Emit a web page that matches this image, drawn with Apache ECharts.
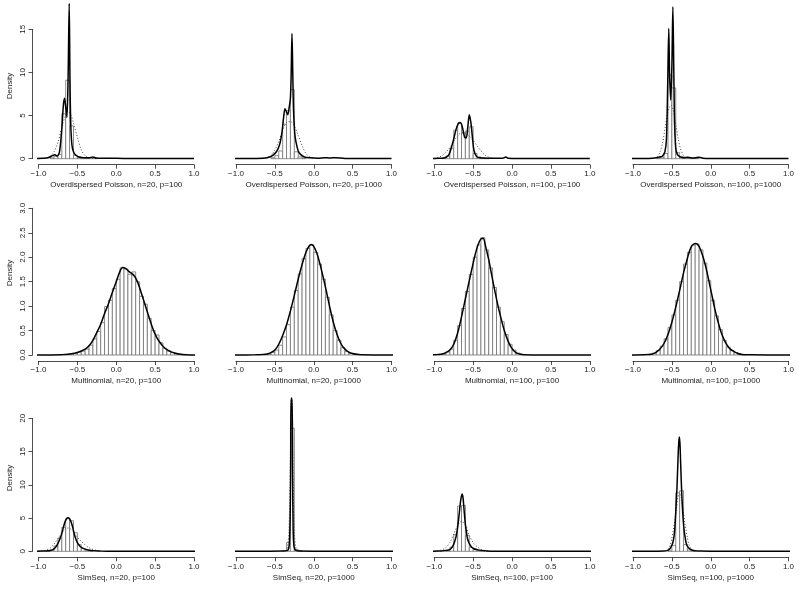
<!DOCTYPE html>
<html>
<head>
<meta charset="utf-8">
<script src="https://cdn.jsdelivr.net/npm/echarts@6/dist/echarts.min.js"></script>
<style>
  html, body { margin: 0; padding: 0; background: #fff; }
  #chart { width: 800px; height: 589px; }
</style>
</head>
<body>
<div id="chart"></div>
<script>
// panel captions, row by row
const panelTitles = [
  'Overdispersed Poisson, n=20, p=100', 'Overdispersed Poisson, n=20, p=1000',
  'Overdispersed Poisson, n=100, p=100', 'Overdispersed Poisson, n=100, p=1000',
  'Multinomial, n=20, p=100', 'Multinomial, n=20, p=1000',
  'Multinomial, n=100, p=100', 'Multinomial, n=100, p=1000',
  'SimSeq, n=20, p=100', 'SimSeq, n=20, p=1000',
  'SimSeq, n=100, p=100', 'SimSeq, n=100, p=1000'
]
const xTicks = [-1, -0.5, 0, 0.5, 1]
const rowYMax = [15, 3, 20]
const rowYStep = [5, 0.5, 5]
const binWidth = 0.05

// histograms: [bin start, density]
const hist1 = [[-0.85, 0.1], [-0.8, 0.3], [-0.75, 0.5], [-0.7, 5.2], [-0.65, 9.1], [-0.6, 3.8], [-0.55, 0.4], [-0.5, 0.15], [-0.45, 0.08], [-0.4, 0.05], [-0.35, 0.05], [-0.3, 0.08]]
const hist2 = [[-0.55, 0.1], [-0.5, 0.35], [-0.45, 0.9], [-0.4, 4.0], [-0.35, 5.6], [-0.3, 8.0], [-0.25, 0.8], [-0.2, 0.2], [-0.15, 0.05]]
const hist3 = [[-0.9, 0.05], [-0.85, 0.3], [-0.8, 1.2], [-0.75, 3.3], [-0.7, 4.1], [-0.65, 3.0], [-0.6, 3.2], [-0.55, 3.7], [-0.5, 0.6], [-0.45, 0.2], [-0.4, 0.1], [-0.35, 0.05]]
const hist4 = [[-0.7, 0.05], [-0.65, 0.2], [-0.6, 0.6], [-0.55, 9.7], [-0.5, 8.2], [-0.45, 0.7], [-0.4, 0.25], [-0.35, 0.1], [-0.3, 0.1], [-0.25, 0.05], [-0.2, 0.05]]
const hist5 = [[-0.65, 0.01], [-0.6, 0.02], [-0.55, 0.03], [-0.5, 0.06], [-0.45, 0.08], [-0.4, 0.12], [-0.35, 0.2], [-0.3, 0.33], [-0.25, 0.48], [-0.2, 0.66], [-0.15, 0.99], [-0.1, 1.12], [-0.05, 1.36], [0, 1.55], [0.05, 1.78], [0.1, 1.76], [0.15, 1.65], [0.2, 1.7], [0.25, 1.5], [0.3, 1.2], [0.35, 1.04], [0.4, 0.75], [0.45, 0.5], [0.5, 0.41], [0.55, 0.25], [0.6, 0.14], [0.65, 0.08], [0.7, 0.05], [0.75, 0.03], [0.8, 0.02], [0.85, 0.01]]
const hist6 = [[-0.65, 0.01], [-0.6, 0.02], [-0.55, 0.05], [-0.5, 0.1], [-0.45, 0.2], [-0.4, 0.37], [-0.35, 0.62], [-0.3, 0.98], [-0.25, 1.32], [-0.2, 1.66], [-0.15, 1.97], [-0.1, 2.18], [-0.05, 2.25], [0, 2.1], [0.05, 1.86], [0.1, 1.55], [0.15, 1.18], [0.2, 0.82], [0.25, 0.5], [0.3, 0.3], [0.35, 0.15], [0.4, 0.07], [0.45, 0.03], [0.5, 0.01]]
const hist7 = [[-0.95, 0.01], [-0.9, 0.02], [-0.85, 0.06], [-0.8, 0.12], [-0.75, 0.3], [-0.7, 0.6], [-0.65, 0.95], [-0.6, 1.3], [-0.55, 1.65], [-0.5, 2.0], [-0.45, 2.25], [-0.4, 2.4], [-0.35, 2.15], [-0.3, 1.78], [-0.25, 1.38], [-0.2, 0.98], [-0.15, 0.68], [-0.1, 0.42], [-0.05, 0.22], [0, 0.1], [0.05, 0.04], [0.1, 0.01]]
const hist8 = [[-0.8, 0.015], [-0.75, 0.04], [-0.7, 0.09], [-0.65, 0.18], [-0.6, 0.33], [-0.55, 0.56], [-0.5, 0.82], [-0.45, 1.12], [-0.4, 1.5], [-0.35, 1.86], [-0.3, 2.1], [-0.25, 2.25], [-0.2, 2.27], [-0.15, 2.15], [-0.1, 1.88], [-0.05, 1.52], [0, 1.12], [0.05, 0.8], [0.1, 0.52], [0.15, 0.3], [0.2, 0.16], [0.25, 0.09], [0.3, 0.05], [0.35, 0.02], [0.4, 0.01]]
const hist9 = [[-0.9, 0.05], [-0.85, 0.2], [-0.8, 0.8], [-0.75, 2.0], [-0.7, 3.6], [-0.65, 4.9], [-0.6, 4.6], [-0.55, 2.8], [-0.5, 1.0], [-0.45, 0.4], [-0.4, 0.15], [-0.35, 0.06]]
const hist10 = [[-0.4, 0.05], [-0.35, 1.3], [-0.3, 18.5], [-0.25, 0.3], [-0.2, 0.05]]
const hist11 = [[-0.85, 0.1], [-0.8, 0.6], [-0.75, 2.5], [-0.7, 6.8], [-0.65, 6.9], [-0.6, 2.4], [-0.55, 0.6], [-0.5, 0.25], [-0.45, 0.1], [-0.4, 0.05]]
const hist12 = [[-0.55, 0.05], [-0.5, 0.9], [-0.45, 8.8], [-0.4, 9.1], [-0.35, 1.0], [-0.3, 0.2], [-0.25, 0.05]]

// kernel density curves (solid)
const dens1 = [[-1.03, 0.03], [-0.95, 0.05], [-0.88, 0.1], [-0.82, 0.35], [-0.79, 0.45], [-0.76, 0.3], [-0.73, 0.8], [-0.7, 3.5], [-0.68, 6.2], [-0.665, 7.0], [-0.65, 6.0], [-0.635, 4.8], [-0.62, 9], [-0.605, 18.0], [-0.595, 9], [-0.585, 4], [-0.57, 1.6], [-0.55, 0.8], [-0.52, 0.4], [-0.48, 0.2], [-0.42, 0.12], [-0.35, 0.1], [-0.3, 0.2], [-0.26, 0.08], [-0.15, 0.05], [0, 0.04], [0.2, 0.02], [0.5, 0.01], [1.0, 0.01]]
const dens2 = [[-1.03, 0.02], [-0.8, 0.03], [-0.65, 0.05], [-0.6, 0.1], [-0.54, 0.3], [-0.48, 0.8], [-0.44, 1.6], [-0.41, 3.0], [-0.385, 5.0], [-0.37, 5.8], [-0.35, 5.4], [-0.335, 5.1], [-0.315, 6.0], [-0.3, 7.0], [-0.29, 10], [-0.28, 14.5], [-0.27, 10], [-0.26, 5.6], [-0.245, 3.0], [-0.23, 2.0], [-0.2, 0.9], [-0.17, 0.5], [-0.12, 0.2], [-0.05, 0.1], [0.05, 0.05], [0.15, 0.12], [0.2, 0.08], [0.28, 0.12], [0.4, 0.03], [0.7, 0.02], [1.0, 0.02]]
const dens3 = [[-1.03, 0.02], [-0.95, 0.05], [-0.88, 0.08], [-0.84, 0.2], [-0.81, 0.5], [-0.78, 1.3], [-0.75, 2.3], [-0.72, 3.4], [-0.69, 4.1], [-0.67, 4.2], [-0.65, 4.0], [-0.63, 3.3], [-0.61, 2.5], [-0.59, 2.4], [-0.57, 3.6], [-0.55, 5.1], [-0.53, 4.2], [-0.51, 2.5], [-0.49, 1.0], [-0.46, 0.3], [-0.42, 0.1], [-0.3, 0.05], [-0.12, 0.04], [-0.08, 0.2], [-0.05, 0.06], [0.1, 0.03], [0.5, 0.02], [1.0, 0.02]]
const dens4 = [[-1.03, 0.02], [-0.8, 0.03], [-0.7, 0.1], [-0.66, 0.2], [-0.63, 0.25], [-0.61, 0.45], [-0.59, 0.8], [-0.57, 2.2], [-0.555, 8], [-0.54, 15.1], [-0.53, 10], [-0.515, 6.8], [-0.5, 10.7], [-0.487, 17.6], [-0.475, 10], [-0.465, 4], [-0.45, 1.2], [-0.43, 0.5], [-0.4, 0.25], [-0.35, 0.12], [-0.3, 0.18], [-0.25, 0.08], [-0.2, 0.1], [-0.15, 0.18], [-0.1, 0.06], [0, 0.03], [0.5, 0.02], [1.0, 0.02]]
const dens5 = [[-1.03, 0], [-0.7, 0.005], [-0.6, 0.02], [-0.5, 0.05], [-0.4, 0.12], [-0.35, 0.19], [-0.3, 0.3], [-0.25, 0.46], [-0.2, 0.63], [-0.15, 0.85], [-0.1, 1.05], [-0.05, 1.28], [0, 1.5], [0.04, 1.68], [0.08, 1.79], [0.12, 1.77], [0.16, 1.71], [0.2, 1.67], [0.24, 1.6], [0.28, 1.47], [0.32, 1.28], [0.36, 1.08], [0.4, 0.88], [0.44, 0.68], [0.48, 0.5], [0.52, 0.36], [0.56, 0.26], [0.6, 0.18], [0.65, 0.11], [0.7, 0.07], [0.75, 0.04], [0.8, 0.02], [0.9, 0.005], [1.03, 0]]
const dens6 = [[-1.03, 0], [-0.75, 0.003], [-0.65, 0.01], [-0.6, 0.02], [-0.55, 0.05], [-0.5, 0.1], [-0.45, 0.22], [-0.4, 0.4], [-0.35, 0.62], [-0.3, 0.9], [-0.25, 1.22], [-0.2, 1.55], [-0.15, 1.85], [-0.1, 2.1], [-0.06, 2.23], [-0.03, 2.26], [0, 2.22], [0.04, 2.08], [0.08, 1.86], [0.12, 1.6], [0.16, 1.32], [0.2, 1.02], [0.25, 0.68], [0.3, 0.42], [0.35, 0.23], [0.4, 0.12], [0.45, 0.06], [0.5, 0.03], [0.6, 0.005], [1.03, 0]]
const dens7 = [[-1.03, 0.003], [-0.95, 0.01], [-0.9, 0.02], [-0.85, 0.05], [-0.8, 0.1], [-0.75, 0.22], [-0.7, 0.45], [-0.65, 0.78], [-0.6, 1.15], [-0.55, 1.52], [-0.5, 1.88], [-0.46, 2.14], [-0.42, 2.32], [-0.39, 2.38], [-0.37, 2.38], [-0.34, 2.22], [-0.3, 1.95], [-0.26, 1.62], [-0.22, 1.3], [-0.18, 1.0], [-0.14, 0.74], [-0.1, 0.5], [-0.06, 0.32], [-0.02, 0.18], [0.02, 0.09], [0.06, 0.04], [0.1, 0.02], [0.15, 0.005], [0.3, 0.002], [1.03, 0.002]]
const dens8 = [[-1.03, 0], [-0.85, 0.003], [-0.75, 0.02], [-0.7, 0.06], [-0.65, 0.13], [-0.6, 0.24], [-0.55, 0.42], [-0.5, 0.67], [-0.45, 0.98], [-0.4, 1.32], [-0.35, 1.68], [-0.3, 1.98], [-0.26, 2.18], [-0.22, 2.27], [-0.19, 2.28], [-0.15, 2.22], [-0.11, 2.06], [-0.07, 1.84], [-0.03, 1.56], [0.01, 1.26], [0.05, 0.96], [0.09, 0.7], [0.13, 0.48], [0.17, 0.32], [0.21, 0.2], [0.25, 0.12], [0.3, 0.07], [0.35, 0.03], [0.4, 0.01], [0.5, 0.003], [1.03, 0]]
const dens9 = [[-1.03, 0.01], [-0.95, 0.03], [-0.9, 0.06], [-0.85, 0.12], [-0.81, 0.3], [-0.78, 0.6], [-0.75, 1.2], [-0.72, 2.0], [-0.7, 2.7], [-0.68, 3.6], [-0.66, 4.4], [-0.64, 4.9], [-0.62, 5.05], [-0.6, 4.9], [-0.58, 4.4], [-0.56, 3.6], [-0.53, 2.2], [-0.5, 1.3], [-0.47, 0.8], [-0.44, 0.52], [-0.4, 0.33], [-0.36, 0.2], [-0.32, 0.12], [-0.28, 0.07], [-0.2, 0.03], [0, 0.01], [1.03, 0.01]]
const dens10 = [[-1.03, 0.01], [-0.6, 0.02], [-0.4, 0.04], [-0.35, 0.1], [-0.33, 0.2], [-0.315, 1.0], [-0.305, 4.2], [-0.297, 12], [-0.292, 23], [-0.279, 23], [-0.272, 12], [-0.265, 3.2], [-0.255, 0.8], [-0.242, 0.3], [-0.22, 0.1], [-0.18, 0.04], [0, 0.02], [1.03, 0.01]]
const dens11 = [[-1.03, 0.02], [-0.95, 0.04], [-0.88, 0.08], [-0.82, 0.2], [-0.79, 0.35], [-0.76, 0.8], [-0.74, 1.4], [-0.72, 2.2], [-0.7, 3.6], [-0.68, 5.6], [-0.66, 7.7], [-0.643, 8.6], [-0.63, 8.0], [-0.617, 6.2], [-0.6, 4.0], [-0.59, 3.2], [-0.575, 2.0], [-0.56, 1.45], [-0.54, 0.95], [-0.52, 0.6], [-0.49, 0.38], [-0.45, 0.25], [-0.4, 0.14], [-0.33, 0.06], [-0.2, 0.02], [1.03, 0.01]]
const dens12 = [[-1.03, 0.01], [-0.7, 0.02], [-0.6, 0.03], [-0.56, 0.1], [-0.53, 0.3], [-0.5, 0.9], [-0.48, 1.7], [-0.465, 3.0], [-0.456, 4.7], [-0.445, 7.0], [-0.434, 9.7], [-0.425, 12.6], [-0.417, 15.2], [-0.41, 16.6], [-0.404, 17.2], [-0.396, 16.2], [-0.387, 13.2], [-0.378, 10.2], [-0.369, 7.7], [-0.356, 5.0], [-0.343, 3.2], [-0.325, 1.8], [-0.309, 0.95], [-0.28, 0.45], [-0.244, 0.2], [-0.2, 0.08], [-0.136, 0.03], [0, 0.01], [1.03, 0.01]]

// fitted normal curves (dotted), only where they show
const norm1 = [[-1.0, 0], [-0.9, 0.05], [-0.85, 0.25], [-0.8, 0.8], [-0.75, 1.9], [-0.7, 3.6], [-0.65, 5.1], [-0.62, 5.5], [-0.58, 5.0], [-0.55, 4.1], [-0.5, 2.5], [-0.45, 1.0], [-0.4, 0.35], [-0.35, 0.1], [-0.3, 0.02]]
const norm2 = [[-0.7, 0.02], [-0.6, 0.15], [-0.55, 0.4], [-0.5, 1.0], [-0.45, 2.0], [-0.4, 3.3], [-0.35, 4.2], [-0.3, 4.3], [-0.25, 3.8], [-0.2, 2.7], [-0.15, 1.5], [-0.1, 0.6], [-0.05, 0.2], [0, 0.05]]
const norm3 = [[-1.0, 0.05], [-0.95, 0.15], [-0.9, 0.35], [-0.85, 0.75], [-0.8, 1.3], [-0.75, 2.0], [-0.7, 2.65], [-0.65, 3.0], [-0.6, 2.95], [-0.55, 2.6], [-0.5, 2.1], [-0.45, 1.5], [-0.4, 0.9], [-0.35, 0.45], [-0.3, 0.18], [-0.25, 0.05]]
const norm4 = [[-0.72, 0.05], [-0.68, 0.3], [-0.65, 0.8], [-0.62, 1.8], [-0.59, 3.4], [-0.56, 5.0], [-0.53, 6.0], [-0.51, 6.2], [-0.48, 5.6], [-0.45, 4.0], [-0.42, 2.4], [-0.39, 1.2], [-0.36, 0.5], [-0.33, 0.15], [-0.29, 0.03]]
const norm9 = [[-1.0, 0.01], [-0.95, 0.05], [-0.9, 0.2], [-0.85, 0.5], [-0.8, 1.1], [-0.75, 1.9], [-0.7, 2.8], [-0.65, 3.4], [-0.62, 3.5], [-0.58, 3.3], [-0.54, 2.75], [-0.5, 2.1], [-0.45, 1.5], [-0.4, 0.95], [-0.35, 0.55], [-0.3, 0.28], [-0.25, 0.12], [-0.2, 0.04]]
const norm10 = [[-0.36, 0.05], [-0.34, 0.5], [-0.32, 3], [-0.305, 10], [-0.29, 23], [-0.28, 23], [-0.265, 10], [-0.25, 3], [-0.23, 0.5], [-0.21, 0.05]]
const norm11 = [[-1.0, 0.02], [-0.95, 0.08], [-0.9, 0.22], [-0.85, 0.6], [-0.8, 1.3], [-0.75, 2.6], [-0.7, 3.9], [-0.65, 4.5], [-0.6, 3.9], [-0.55, 2.4], [-0.5, 1.3], [-0.45, 0.7], [-0.4, 0.3], [-0.35, 0.12], [-0.3, 0.04]]
const norm12 = [[-0.58, 0.05], [-0.55, 0.3], [-0.52, 1.0], [-0.5, 2.0], [-0.47, 4.0], [-0.44, 6.5], [-0.41, 8.5], [-0.39, 8.5], [-0.36, 6.5], [-0.33, 4.0], [-0.3, 2.0], [-0.28, 1.0], [-0.25, 0.3], [-0.22, 0.05]]

const hists = [hist1, hist2, hist3, hist4, hist5, hist6, hist7, hist8, hist9, hist10, hist11, hist12]
const denss = [dens1, dens2, dens3, dens4, dens5, dens6, dens7, dens8, dens9, dens10, dens11, dens12]
const norms = [norm1, norm2, norm3, norm4, null, null, null, null, norm9, norm10, norm11, norm12]

// layout (pixels): x of -1.0 per column, top tick and zero line per row
const colLeft = [38.5, 236, 434.3, 633]
const plotWidth = 155.5
const rowTop = [29.3, 208.3, 418.3]
const rowZero = [158.7, 355, 551.3]
const densityLabelY = [86, 273, 478]

const FONT = '"Liberation Sans", Arial, Helvetica, sans-serif'
const fmtNum = (v, digits) => (v < 0 ? '\u2212' : '') + Math.abs(v).toFixed(digits)

const chart = echarts.init(document.getElementById('chart'), null, { renderer: 'canvas' })

const grids = [], xAxes = [], yAxes = [], series = []

function renderBin(params, api) {
  const p0 = api.coord([api.value(0), 0])
  const p1 = api.coord([api.value(1), api.value(2)])
  return {
    type: 'rect',
    shape: { x: p0[0], y: p1[1], width: p1[0] - p0[0], height: p0[1] - p1[1] },
    style: { fill: '#fff', stroke: '#707070', lineWidth: 0.8 }
  }
}

panelTitles.forEach((title, i) => {
  const r = Math.floor(i / 4), c = i % 4
  grids.push({
    left: colLeft[c], width: plotWidth,
    top: rowTop[r], height: rowZero[r] - rowTop[r],
    containLabel: false
  })
  xAxes.push({
    type: 'value', gridIndex: i, min: xTicks[0], max: xTicks[xTicks.length - 1], interval: 0.5,
    offset: 6,
    axisLine: { onZero: false, lineStyle: { color: '#222', width: 0.8 } },
    axisTick: { length: 4, lineStyle: { color: '#222', width: 0.8 } },
    axisLabel: { color: '#222', fontFamily: FONT, fontSize: 8, margin: 5, formatter: v => fmtNum(v, 1) },
    splitLine: { show: false },
    name: title, nameLocation: 'middle', nameGap: 16,
    nameTextStyle: { color: '#222', fontFamily: FONT, fontSize: 8 }
  })
  yAxes.push({
    type: 'value', gridIndex: i, min: 0, max: rowYMax[r], interval: rowYStep[r],
    show: c === 0,
    offset: 6,
    axisLine: { show: true, onZero: false, lineStyle: { color: '#222', width: 0.8 } },
    axisTick: { show: true, length: 4, lineStyle: { color: '#222', width: 0.8 } },
    axisLabel: {
      color: '#222', fontFamily: FONT, fontSize: 8, margin: 6, rotate: 90,
      formatter: v => r === 1 ? v.toFixed(1) : String(v)
    },
    splitLine: { show: false }
  })
  series.push({
    type: 'custom', xAxisIndex: i, yAxisIndex: i, clip: false, z: 1,
    renderItem: renderBin,
    data: hists[i].map(([s, h]) => [s, s + binWidth, h])
  })
  if (norms[i]) {
    series.push({
      type: 'line', xAxisIndex: i, yAxisIndex: i, clip: false, z: 2,
      showSymbol: false, smooth: 0.3,
      lineStyle: { color: '#444', width: 1, type: [1, 2] },
      data: norms[i]
    })
  }
  series.push({
    type: 'line', xAxisIndex: i, yAxisIndex: i, clip: false, z: 3,
    showSymbol: false, smooth: 0.3,
    lineStyle: { color: '#000', width: 1.5 },
    data: denss[i]
  })
})

chart.setOption({
  animation: false,
  backgroundColor: '#fff',
  grid: grids,
  xAxis: xAxes,
  yAxis: yAxes,
  series: series,
  graphic: densityLabelY.map(y => ({
    type: 'text', x: 10, y: y, rotation: Math.PI / 2,
    style: { text: 'Density', fill: '#222', font: '8px ' + FONT, textAlign: 'center', textVerticalAlign: 'middle' }
  }))
})
</script>
</body>
</html>
